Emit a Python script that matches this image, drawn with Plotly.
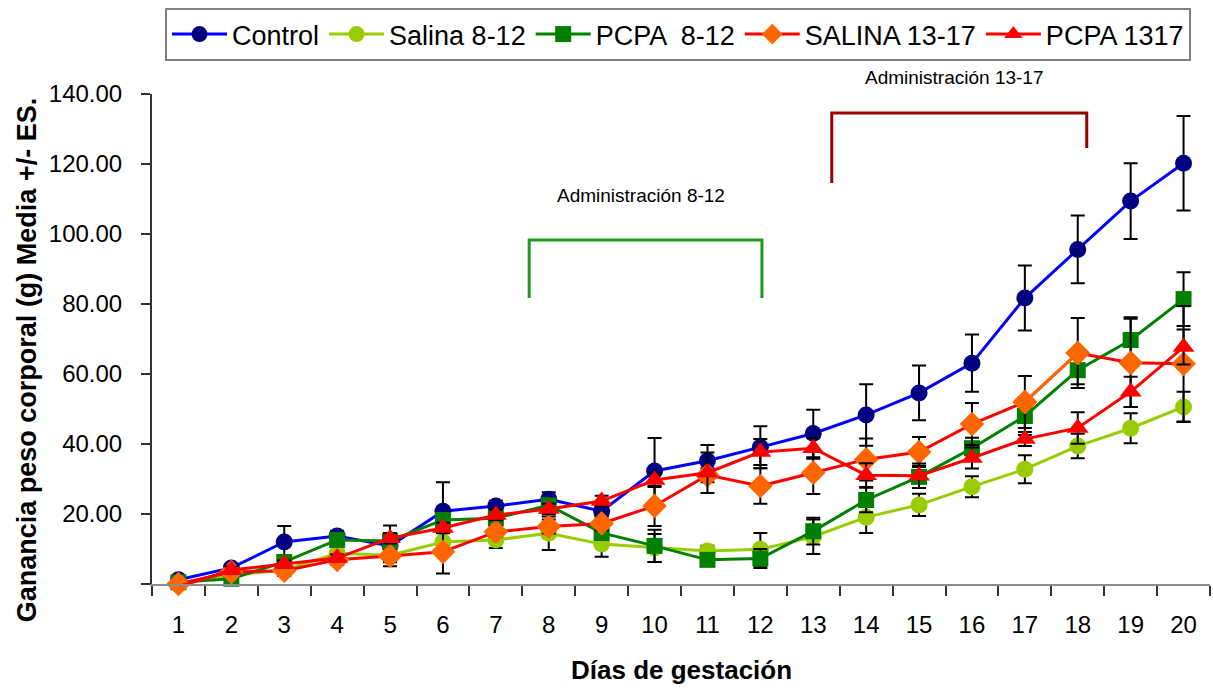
import plotly.graph_objects as go

# Días de gestación
days = list(range(1, 21))

# Ganancia de peso corporal (g), media por grupo
control = [1.2, 4.6, 12.0, 13.7, 10.9, 20.8, 22.3, 24.2, 20.8, 32.3,
           35.2, 39.1, 43.0, 48.3, 54.6, 63.1, 81.7, 95.6, 109.4, 120.2]
salina_812 = [0.3, 2.5, 4.0, 8.8, 8.2, 12.0, 12.6, 14.5, 11.4, 10.3,
              9.4, 9.9, 13.5, 19.1, 22.6, 27.8, 32.8, 39.4, 44.5, 50.6]
pcpa_812 = [0.5, 1.5, 6.3, 12.6, 12.3, 18.3, 18.8, 22.5, 14.6, 10.9,
            6.9, 7.3, 15.1, 24.0, 30.6, 38.8, 48.0, 61.1, 69.7, 81.4]
salina_1317 = [0.0, 3.4, 3.8, 6.9, 8.0, 9.2, 14.9, 16.4, 17.3, 22.3,
               31.1, 28.0, 31.8, 35.6, 37.7, 45.7, 52.0, 66.0, 63.2, 62.9]
pcpa_1317 = [-0.8, 4.0, 5.7, 7.4, 13.1, 16.0, 19.7, 21.4, 23.7, 29.7,
             31.8, 37.7, 38.8, 31.1, 30.9, 36.0, 41.4, 44.6, 54.9, 67.7]

# Error estándar (ES) por grupo
control_es = [0.8, 1.0, 4.6, 1.5, 5.8, 8.3, 1.5, 2.0, 1.5, 9.4,
              4.5, 6.0, 6.8, 8.8, 7.8, 8.2, 9.3, 9.7, 10.8, 13.5]
salina_812_es = [0.5, 1.0, 1.0, 2.0, 2.0, 3.0, 2.3, 4.8, 3.6, 4.0,
                 1.5, 4.7, 4.9, 4.5, 3.2, 3.0, 4.0, 3.5, 4.3, 4.3]
pcpa_812_es = [0.5, 1.0, 1.5, 1.5, 1.5, 2.0, 1.5, 2.0, 2.0, 4.6,
               1.5, 2.7, 3.8, 3.5, 3.2, 3.0, 5.4, 4.0, 6.5, 7.7]
salina_1317_es = [0.5, 1.0, 1.5, 1.5, 1.5, 6.2, 1.5, 2.0, 2.0, 5.7,
                  2.0, 5.1, 6.1, 6.0, 4.3, 6.0, 7.4, 10.0, 12.6, 16.5]
pcpa_1317_es = [0.5, 1.0, 1.0, 1.0, 1.5, 1.5, 1.5, 1.5, 1.5, 2.0,
                5.8, 3.7, 3.0, 3.4, 3.5, 3.0, 2.0, 4.5, 4.3, 5.0]

y_ticks = [0, 20, 40, 60, 80, 100, 120, 140]
y_labels = ["" if v == 0 else f"{v:.2f}" for v in y_ticks]

FONT = "Liberation Sans, Arial, sans-serif"


def err(arr):
    return dict(type="data", array=arr, color="black", thickness=2, width=7)


fig = go.Figure()

series = [
    ("Control", control, control_es, "#0000FF", "#000080", "circle", 17),
    ("Salina 8-12", salina_812, salina_812_es, "#99CC00", "#99CC00", "circle", 17),
    ("PCPA  8-12", pcpa_812, pcpa_812_es, "#008000", "#008000", "square", 16),
    ("SALINA 13-17", salina_1317, salina_1317_es, "#FF0000", "#FF6600", "diamond", 19),
    ("PCPA 1317", pcpa_1317, pcpa_1317_es, "#FF0000", "#FF0000", "triangle-up", 19),
]

for name, vals, es, lcol, mcol, sym, size in series:
    fig.add_trace(go.Scatter(
        x=days, y=vals, name=name, mode="lines+markers",
        line=dict(color=lcol, width=3),
        marker=dict(color=mcol, symbol=sym, size=size, line=dict(width=0)),
        error_y=err(es), cliponaxis=False, hoverinfo="x+y+name",
    ))
    if name == "SALINA 13-17":
        # tramo entre los días 17 y 18 dibujado en naranja
        fig.add_trace(go.Scatter(
            x=days[16:18], y=vals[16:18], mode="lines",
            line=dict(color=mcol, width=3), showlegend=False,
            hoverinfo="skip", cliponaxis=False,
        ))
        fig.add_trace(go.Scatter(
            x=days[16:18], y=vals[16:18], mode="markers",
            marker=dict(color=mcol, symbol=sym, size=size, line=dict(width=0)),
            showlegend=False, hoverinfo="skip", cliponaxis=False,
        ))

# Corchetes de los periodos de administración
fig.add_shape(type="path", xref="x", yref="y",
              path="M 7.63 81.7 L 7.63 98.3 L 12.03 98.3 L 12.03 81.7",
              line=dict(color="#1E9B1E", width=3))
fig.add_shape(type="path", xref="x", yref="y",
              path="M 13.35 114.6 L 13.35 134.6 L 18.17 134.6 L 18.17 124.6",
              line=dict(color="#990000", width=3))

fig.add_annotation(x=9.74, y=110.9, xref="x", yref="y", text="Administración 8-12",
                   showarrow=False, font=dict(family=FONT, size=19, color="black"))
fig.add_annotation(x=15.66, y=1.0327, xref="x", yref="paper", text="Administración 13-17",
                   showarrow=False, yanchor="middle",
                   font=dict(family=FONT, size=19, color="black"))

# Títulos de los ejes
fig.add_annotation(x=0.5, y=-0.1755, xref="paper", yref="paper",
                   text="<b>Días de gestación</b>", showarrow=False,
                   xanchor="center", yanchor="middle",
                   font=dict(family=FONT, size=26, color="black"))
fig.add_annotation(x=-0.118, y=0.457, xref="paper", yref="paper",
                   text="<b>Ganancia peso corporal (g) Media +/- ES.</b>",
                   textangle=-90, showarrow=False,
                   xanchor="center", yanchor="middle",
                   font=dict(family=FONT, size=27, color="black"))

fig.update_layout(
    width=1213, height=688,
    margin=dict(l=152, r=3, t=94, b=104),
    paper_bgcolor="white", plot_bgcolor="white",
    font=dict(family=FONT, color="black"),
    showlegend=True,
    legend=dict(
        orientation="h", x=0.0123, y=1.1755, xanchor="left", yanchor="top",
        bordercolor="#808080", borderwidth=2, bgcolor="white",
        font=dict(family=FONT, size=27, color="black"),
        itemwidth=55, itemclick=False, itemdoubleclick=False,
    ),
    xaxis=dict(
        range=[0.5, 20.5], tickmode="array", tickvals=days,
        ticktext=[str(d) for d in days], ticks="outside", ticklen=0,
        tickfont=dict(family=FONT, size=24, color="black"),
        ticklabelstandoff=18,
        showline=True, linecolor="#8C8C8C", linewidth=2,
        showgrid=False, zeroline=False,
        minor=dict(tickvals=[d - 0.5 for d in days] + [days[-1] + 0.5],
                   ticks="outside", ticklen=10, tickcolor="#333333",
                   tickwidth=2, showgrid=False),
    ),
    yaxis=dict(
        range=[0, 140], tickmode="array", tickvals=y_ticks, ticktext=y_labels,
        ticks="outside", ticklen=9, tickwidth=2, tickcolor="#333333",
        tickfont=dict(family=FONT, size=24, color="black"),
        ticklabelstandoff=14,
        showline=True, linecolor="#333333", linewidth=2,
        showgrid=False, zeroline=False,
    ),
)

fig.write_html("out.html")
